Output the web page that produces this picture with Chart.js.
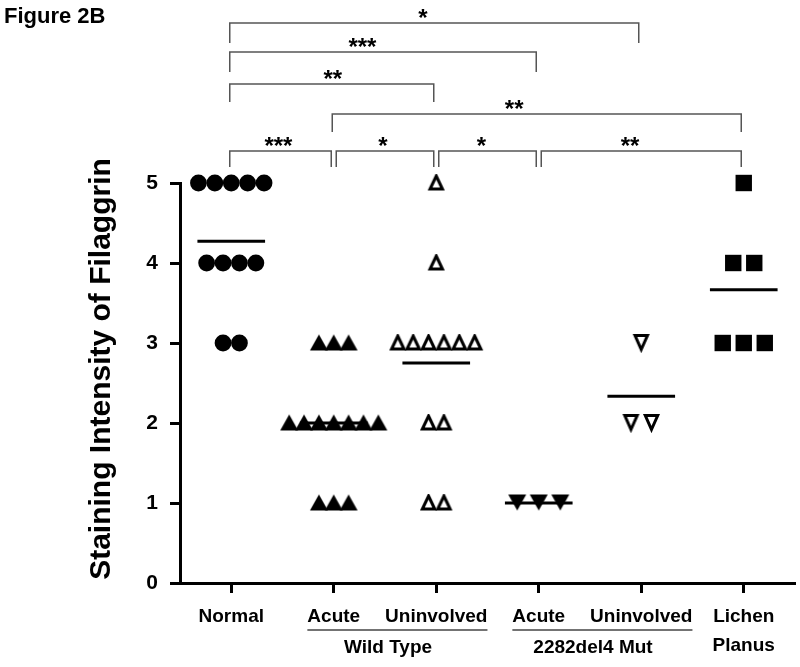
<!DOCTYPE html>
<html>
<head>
<meta charset="utf-8">
<script src="https://cdn.jsdelivr.net/npm/chart.js@4"></script>
<style>
  body { margin: 0; background: #fff; overflow: hidden; }
  #wrap { width: 800px; height: 667px; position: relative; }
</style>
</head>
<body>
<div id="wrap"><canvas id="myChart"></canvas></div>
<script>
// categories (x axis) and group labels underneath
var categories = ['Normal', 'Acute', 'Uninvolved', 'Acute', 'Uninvolved', ['Lichen', 'Planus']];
var subGroups = [['Wild Type', 2, 3], ['2282del4 Mut', 4, 5]];
var yTicks = [0, 1, 2, 3, 4, 5];
var yTitle = 'Staining Intensity of Filaggrin';

// staining scores per group
var normal = [5, 5, 5, 5, 5, 4, 4, 4, 4, 3, 3];
var wtAcute = [3, 3, 3, 2, 2, 2, 2, 2, 2, 2, 1, 1, 1];
var wtUninvolved = [5, 4, 3, 3, 3, 3, 3, 3, 2, 2, 1, 1];
var mutAcute = [1, 1, 1];
var mutUninvolved = [3, 2, 2];
var lichenPlanus = [5, 4, 4, 3, 3, 3];

// significance brackets: [from category, to category, stars, where the stars sit]
var brackets = [
  [1, 5, '*', 2.87],
  [1, 4, '***', 2.28],
  [1, 3, '**', 1.99],
  [2, 6, '**', 3.76],
  [1, 2, '***', 1.46],
  [2, 3, '*', 2.48],
  [3, 4, '*', 3.44],
  [4, 6, '**', 4.89]
];

var FONT = '"Liberation Sans", Arial, Helvetica, sans-serif';

function triangle(w, h, down, filled) {
  var c = document.createElement('canvas');
  c.width = w + 2; c.height = h + 2;
  var g = c.getContext('2d');
  var lw = filled ? 0 : 3;
  var i = lw / 2 + 1;
  var top = down ? h + 1 - i : i, base = down ? i : h + 1 - i;
  g.beginPath();
  g.moveTo(c.width / 2, top);
  g.lineTo(c.width - i - (filled ? 0 : 0.8), base);
  g.lineTo(i + (filled ? 0 : 0.8), base);
  g.closePath();
  if (filled) {
    g.fillStyle = '#000';
    g.fill();
  } else {
    g.fillStyle = '#fff';
    g.fill();
    g.lineWidth = lw;
    g.lineJoin = 'miter';
    g.strokeStyle = '#000';
    g.stroke();
  }
  return c;
}

// lay points of equal value side by side around the category
function spread(values, cat, step) {
  var counts = {}, seen = {};
  values.forEach(function(v) { counts[v] = (counts[v] || 0) + 1; });
  return values.map(function(v) {
    seen[v] = (seen[v] === undefined) ? 0 : seen[v] + 1;
    return { x: cat + (seen[v] - (counts[v] - 1) / 2) * step, y: v };
  });
}

function mean(values) {
  return values.reduce(function(a, b) { return a + b; }, 0) / values.length;
}

var groups = [
  { values: normal, step: 0.16, style: 'circle', radius: 8.4 },
  { values: wtAcute, step: 0.145, style: triangle(18, 17, false, true), radius: 9 },
  { values: wtUninvolved, step: 0.15, style: triangle(17, 17, false, false), radius: 9 },
  { values: mutAcute, step: 0.21, style: triangle(18, 17, true, true), radius: 9 },
  { values: mutUninvolved, step: 0.2, style: triangle(17, 18, true, false), radius: 9 },
  { values: lichenPlanus, step: 0.205, style: 'rect', radius: 11.6 }
];

var datasets = [];
groups.forEach(function(g, i) {
  var m = mean(g.values);
  datasets.push({
    data: [{ x: i + 1 - 0.33, y: m }, { x: i + 1 + 0.33, y: m }],
    showLine: true,
    borderColor: '#000',
    borderWidth: 3,
    pointRadius: 0,
    order: 0,
    clip: false
  });
});
groups.forEach(function(g, i) {
  datasets.push({
    data: spread(g.values, i + 1, g.step),
    pointStyle: g.style,
    pointRadius: g.radius,
    pointHoverRadius: g.radius,
    backgroundColor: '#000',
    borderColor: '#000',
    borderWidth: 0,
    order: 1,
    clip: false
  });
});

var labelFont = 'bold 19px ' + FONT;

var annotations = {
  id: 'annotations',
  afterDraw: function(chart) {
    var ctx = chart.ctx, xs = chart.scales.x, top = chart.chartArea.top;
    ctx.save();

    ctx.fillStyle = '#000';
    ctx.font = 'bold 22px ' + FONT;
    ctx.textAlign = 'left';
    ctx.textBaseline = 'alphabetic';
    ctx.fillText('Figure 2B', 4, 23);

    // y axis title
    ctx.save();
    ctx.translate(102, 369);
    ctx.rotate(-Math.PI / 2);
    ctx.font = 'bold 30px ' + FONT;
    ctx.textAlign = 'center';
    ctx.textBaseline = 'middle';
    ctx.fillText(yTitle, 0, 0);
    ctx.restore();

    // bracket rows: height of the bar above the plot and leg length
    var rows = [[160, 20], [131, 20], [99, 18], [69, 18], [32, 16]];
    ctx.strokeStyle = '#555';
    ctx.lineWidth = 1.5;
    ctx.font = 'bold 24px ' + FONT;
    ctx.textAlign = 'center';
    brackets.forEach(function(b, i) {
      var row = rows[Math.min(i, 4)];
      var y = top - row[0];
      var x1 = xs.getPixelForValue(b[0]) + (i >= 4 && b[0] > 1 ? 2 : -2);
      var x2 = xs.getPixelForValue(b[1]) - 3;
      ctx.beginPath();
      ctx.moveTo(x1 + 0.5, y + row[1]);
      ctx.lineTo(x1 + 0.5, y);
      ctx.lineTo(x2 + 0.5, y);
      ctx.lineTo(x2 + 0.5, y + row[1]);
      ctx.stroke();
      ctx.fillText(b[2], xs.getPixelForValue(b[3]), y + 3);
    });

    // group labels with underline under the tick labels
    ctx.font = labelFont;
    ctx.textBaseline = 'middle';
    var lineY = chart.chartArea.bottom + 47;
    subGroups.forEach(function(s) {
      var a = xs.getPixelForValue(s[1]), b = xs.getPixelForValue(s[2]);
      var left = a - ctx.measureText(categories[s[1] - 1]).width / 2;
      var right = b + ctx.measureText(categories[s[2] - 1]).width / 2;
      ctx.strokeStyle = '#444';
      ctx.lineWidth = 1.5;
      ctx.beginPath();
      ctx.moveTo(left, lineY);
      ctx.lineTo(right, lineY);
      ctx.stroke();
      ctx.fillText(s[0], (a + b) / 2 + 3, lineY + 18);
    });
    ctx.restore();
  }
};

var ctx = document.getElementById('myChart').getContext('2d');
var myChart = new Chart(ctx, {
  type: 'scatter',
  data: { datasets: datasets },
  options: {
    responsive: true,
    maintainAspectRatio: false,
    animation: false,
    layout: { autoPadding: false, padding: { top: 183, left: 83, right: 5, bottom: 0 } },
    plugins: { legend: { display: false }, tooltip: { enabled: false } },
    scales: {
      x: {
        type: 'linear',
        min: 0.5,
        max: 6.5,
        afterBuildTicks: function(axis) {
          axis.ticks = categories.map(function(c, i) { return { value: i + 1 }; });
        },
        afterFit: function(axis) {
          axis.height = 84;
          axis.paddingLeft = 0;
          axis.paddingRight = 0;
        },
        border: { display: true, color: '#000', width: 3 },
        grid: { drawOnChartArea: false, drawTicks: true, tickLength: 10, tickWidth: 3, tickColor: '#000' },
        ticks: {
          autoSkip: false,
          maxRotation: 0,
          padding: 10,
          color: '#000',
          font: { family: FONT, size: 19, weight: 'bold', lineHeight: 1.5 },
          callback: function(value) { return categories[value - 1]; }
        }
      },
      y: {
        min: 0,
        max: 5,
        afterBuildTicks: function(axis) {
          axis.ticks = yTicks.map(function(v) { return { value: v }; });
        },
        afterFit: function(axis) {
          axis.width = 97;
          axis.paddingTop = 0;
          axis.paddingBottom = 0;
        },
        border: { display: true, color: '#000', width: 3 },
        grid: { drawOnChartArea: false, drawTicks: true, tickLength: 10, tickWidth: 3, tickColor: '#000' },
        ticks: {
          padding: 12,
          color: '#000',
          font: { family: FONT, size: 21, weight: 'bold' }
        }
      }
    }
  },
  plugins: [annotations]
});
</script>
</body>
</html>
